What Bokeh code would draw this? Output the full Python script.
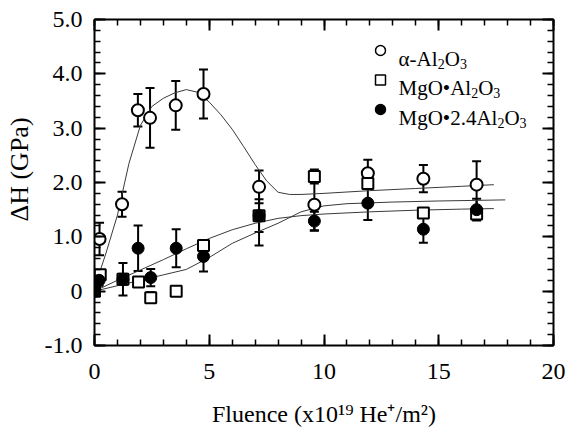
from bokeh.plotting import figure
from bokeh.models import (ColumnDataSource, Whisker, TeeHead, LinearAxis, FixedTicker,
                          Label, Range1d)
from bokeh.embed import file_html
from bokeh.resources import INLINE

# ---------------- data ----------------
fluence_alpha = [0.22, 1.20, 1.89, 2.42, 3.54, 4.75, 7.17, 9.58, 11.91, 14.33, 16.65]
dh_alpha      = [0.96, 1.60, 3.33, 3.19, 3.42, 3.63, 1.92, 1.59, 2.17, 2.07, 1.96]
err_alpha     = [0.30, 0.23, 0.30, 0.55, 0.45, 0.45, 0.30, 0.48, 0.25, 0.25, 0.43]

fluence_spinel = [0.0, 0.25, 1.24, 1.92, 2.45, 3.56, 4.75, 7.17, 9.58, 11.91, 14.33, 16.65]
dh_spinel      = [0.0, 0.30, 0.22, 0.17, -0.12, 0.00, 0.84, 1.39, 2.11, 1.98, 1.44, 1.42]
err_spinel     = [0.0, 0.08, 0.30, 0.05, 0.10, 0.00, 0.08, 0.55, 0.13, 0.08, 0.05, 0.08]

fluence_mg24 = [0.0, 0.20, 1.24, 1.90, 2.45, 3.56, 4.75, 7.17, 9.58, 11.91, 14.33, 16.65]
dh_mg24      = [0.0, 0.20, 0.22, 0.79, 0.25, 0.79, 0.64, 1.39, 1.29, 1.62, 1.14, 1.50]
err_mg24     = [0.0, 0.10, 0.10, 0.42, 0.16, 0.35, 0.28, 0.30, 0.17, 0.31, 0.25, 0.20]

# fitted guide curves
fit_alpha_x = [0.15, 0.5, 1.0, 1.5, 2.0, 2.5, 3.0, 3.5, 4.0, 4.5, 5.0, 5.5, 6.0, 6.5, 7.0,
               7.5, 8.0, 8.5, 9.0, 10.0, 12.0, 14.0, 16.0, 17.4]
fit_alpha_y = [0.25, 0.70, 1.40, 2.35, 3.05, 3.40, 3.55, 3.65, 3.71, 3.66, 3.48, 3.25, 2.98,
               2.66, 2.33, 2.03, 1.82, 1.78, 1.78, 1.80, 1.85, 1.89, 1.93, 1.96]
fit_spinel_x = [0, 1, 2, 3, 4, 5, 6, 7, 8, 9, 10, 11, 13, 15, 17.9]
fit_spinel_y = [0, 0.10, 0.20, 0.30, 0.40, 0.62, 0.88, 1.07, 1.25, 1.46, 1.57, 1.61, 1.64, 1.66, 1.68]
fit_mg24_x = [0, 1, 2, 3, 4, 5, 6, 7, 8, 9, 10, 12, 14, 16, 17.4]
fit_mg24_y = [0, 0.20, 0.39, 0.58, 0.78, 0.97, 1.13, 1.25, 1.34, 1.39, 1.42, 1.46, 1.49, 1.51, 1.52]

x_ticks = [0, 5, 10, 15, 20]
y_ticks = [-1, 0, 1, 2, 3, 4, 5]
y_tick_labels = ["-1.0", "0", "1.0", "2.0", "3.0", "4.0", "5.0"]
x_title = "Fluence (x10¹⁹ He⁺/m²)"
y_title = "\u00a0\u00a0\u00a0\u00a0ΔH (GPa)"

# ---------------- layout ----------------
FONT = "Liberation Serif"
W, H = 568, 430
BL, BR, BT, BB = 94, 15, 19, 85
FW, FH = W - BL - BR, H - BT - BB
X0, X1, Y0, Y1 = 0, 20, -1, 5

p = figure(width=W, height=H, output_backend="svg", toolbar_location=None,
           x_range=Range1d(X0, X1), y_range=Range1d(Y0, Y1),
           min_border_left=BL, min_border_right=BR, min_border_top=BT, min_border_bottom=BB,
           x_axis_location=None, y_axis_location=None)
p.xgrid.visible = False
p.ygrid.visible = False
p.outline_line_color = None

xt = FixedTicker(ticks=x_ticks, minor_ticks=list(range(0, 21)))
yt = FixedTicker(ticks=y_ticks, minor_ticks=[round(-1 + 0.2 * i, 2) for i in range(31)])

def style_axis(ax, ticks, labels=None):
    ax.axis_line_width = 2
    ax.axis_line_color = "black"
    ax.major_tick_in = 11
    ax.major_tick_out = 0
    ax.minor_tick_in = 6
    ax.minor_tick_out = 0
    ax.major_tick_line_width = 2
    ax.minor_tick_line_width = 1.5
    ax.major_tick_line_color = "black"
    ax.minor_tick_line_color = "black"
    ax.major_label_text_font = FONT
    ax.major_label_text_color = "black"
    ax.axis_label_text_font = FONT
    ax.axis_label_text_font_style = "normal"
    ax.axis_label_text_color = "black"
    if labels is None:
        ax.major_label_text_font_size = "1px"
        ax.major_label_standoff = 0
        ax.major_label_overrides = {t: "" for t in ticks}
    else:
        ax.major_label_text_font_size = "24px"
        ax.major_label_overrides = {t: s for t, s in zip(ticks, labels)}

ax_b = LinearAxis(ticker=xt); style_axis(ax_b, x_ticks, [str(t) for t in x_ticks])
ax_b.major_label_standoff = 18
ax_b.axis_label = x_title
ax_b.axis_label_text_font_size = "24px"
ax_b.axis_label_standoff = 19
ax_t = LinearAxis(ticker=xt); style_axis(ax_t, x_ticks)
ax_l = LinearAxis(ticker=yt); style_axis(ax_l, y_ticks, y_tick_labels)
ax_l.major_label_standoff = 12
ax_l.axis_label = y_title
ax_l.axis_label_text_font_size = "26px"
ax_l.axis_label_standoff = 8
ax_r = LinearAxis(ticker=yt); style_axis(ax_r, y_ticks)
p.add_layout(ax_b, "below")
p.add_layout(ax_t, "above")
p.add_layout(ax_l, "left")
p.add_layout(ax_r, "right")

# ---------------- curves ----------------
for fx, fy in [(fit_alpha_x, fit_alpha_y), (fit_spinel_x, fit_spinel_y), (fit_mg24_x, fit_mg24_y)]:
    p.line(fx, fy, line_color="#3a3a3a", line_width=1)

# ---------------- error bars + markers ----------------
def series(xs, ys, es):
    return ColumnDataSource(dict(x=xs, y=ys, lower=[a - b for a, b in zip(ys, es)],
                                 upper=[a + b for a, b in zip(ys, es)]))

src_a = series(fluence_alpha, dh_alpha, err_alpha)
src_s = series(fluence_spinel, dh_spinel, err_spinel)
src_m = series(fluence_mg24, dh_mg24, err_mg24)

for src in (src_a, src_s, src_m):
    wk = Whisker(source=src, base="x", lower="lower", upper="upper",
                 line_width=2, line_color="black", level="underlay",
                 upper_head=TeeHead(size=9, line_width=2, line_color="black"),
                 lower_head=TeeHead(size=9, line_width=2, line_color="black"))
    p.add_layout(wk)

p.scatter("x", "y", source=src_a, marker="circle", size=12, fill_color="white",
          line_color="black", line_width=2)
p.scatter("x", "y", source=src_s, marker="square", size=11, fill_color="white",
          line_color="black", line_width=2)
p.scatter("x", "y", source=src_m, marker="circle", size=12, fill_color="black",
          line_color="black", line_width=1)

# ---------------- legend (rich text inside the frame) ----------------
TW = {'M': 889, 'g': 500, 'O': 722, '•': 350, '.': 250, 'A': 722, 'l': 278, '-': 333,
      'α': 540, '2': 500, '3': 500, '4': 500}

def tw(s, size):
    return sum(TW.get(c, 500) for c in s) * size / 1000.0

def page_to_data(px, py):
    x = X0 + (px - BL) / FW * (X1 - X0)
    y = Y1 - (py - BT) / FH * (Y1 - Y0)
    return x, y

def rich(pieces, px, py):
    pos = 0.0
    for text, size, dy in pieces:
        x, y = page_to_data(px + pos, py + dy)
        p.add_layout(Label(x=x, y=y, text=text, text_font=FONT, text_font_size=f"{size}px",
                           text_color="black", text_align="left", text_baseline="alphabetic"))
        pos += tw(text, size)

LM, LS = 21, 14
rows = [(58, "circle", "white", [("α-Al", LM, 0), ("2", LS, 5), ("O", LM, 0), ("3", LS, 5)]),
        (87.5, "square", "white", [("MgO•Al", LM, 0), ("2", LS, 5), ("O", LM, 0), ("3", LS, 5)]),
        (117, "circle", "black", [("MgO•2.4Al", LM, 0), ("2", LS, 5), ("O", LM, 0), ("3", LS, 5)])]
for base, mk, fill, pieces in rows:
    mx, my = page_to_data(380, base - 8)
    p.scatter([mx], [my], marker=mk, size=10, fill_color=fill, line_color="black", line_width=1.5)
    rich(pieces, 398, base)

open("out.html", "w").write(file_html(p, INLINE))
